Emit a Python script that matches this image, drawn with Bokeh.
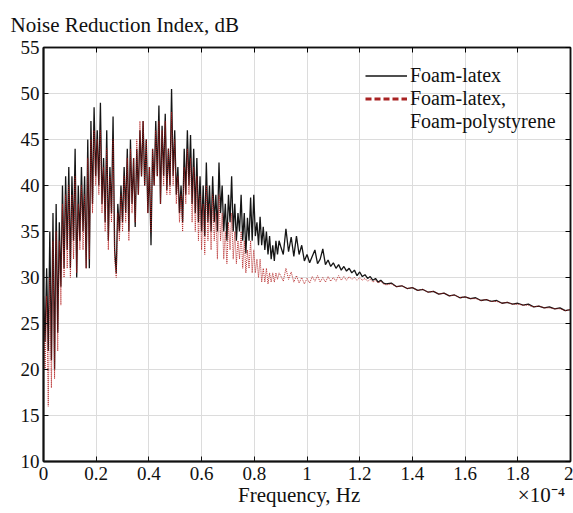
import numpy as np
from bokeh.plotting import figure
from bokeh.models import (Legend, LegendItem, LinearAxis, FixedTicker,
                          Range1d, ColumnDataSource)
from bokeh.embed import file_html
from bokeh.resources import INLINE

# ---------------- data ----------------
freq_a = np.round(np.arange(150) * 0.006, 3)          # 0.000 .. 0.894
freq_b = np.round(0.90 + np.arange(40) * 0.01, 3)      # 0.90 .. 1.29
freq_c = np.round(1.30 + np.arange(36) * 0.02, 3)      # 1.30 .. 2.00

latex_a = [28, 23, 31, 22, 35, 21, 37, 20, 38, 24,
           36, 29, 40, 31, 41, 33, 42, 31, 41, 34,
           44, 30, 40, 34, 42, 35, 41, 31, 45, 31,
           47, 38, 48.5, 41, 46, 40, 49, 38, 43, 36,
           46, 34, 42, 37, 47.5, 33, 30.5, 38, 35, 40,
           36, 42, 37, 44, 35, 45, 38, 43, 35.5, 44,
           39, 46, 41, 47, 40, 45, 37, 42, 33.5, 44,
           40, 47, 41, 48.7, 38, 46.5, 41, 47.8, 39.5, 44,
           40, 50.5, 41, 46, 39, 42, 37, 40, 36, 44,
           39, 46, 40, 45.5, 38, 44, 37, 43, 36, 41,
           35, 40, 34.5, 42.5, 36, 40, 35, 41, 36, 39,
           35, 42.5, 37, 40, 35, 38, 34, 39, 36, 41,
           35, 38, 34, 37, 35, 39, 34, 37, 32.6, 36.5,
           34, 38.7, 34, 39, 34.5, 36, 33.5, 36.6, 33.5, 35.5,
           33, 35, 32.5, 34.5, 32, 33.5, 31.8, 34, 32.5, 34]
latex_b = [33.4, 32.5, 35.3, 32.8, 34.4, 32.3, 34.5, 32.5, 33.5, 31.8,
           32.5, 31.6, 32.3, 33.0, 31.5, 32.0, 33.1, 31.4, 31.9, 31.2,
           31.6, 31.0, 31.4, 30.8, 31.2, 30.7, 31.0, 30.5, 30.8, 30.2,
           30.6, 30.1, 30.3, 29.9, 30.1, 29.7, 29.9, 29.5, 29.7, 29.4]
latex_c = [29.3, 29.4, 29.0, 29.1, 28.8, 28.9, 28.6, 28.7, 28.4, 28.5,
           28.2, 28.3, 28.0, 28.1, 27.8, 27.9, 27.7, 27.8, 27.5, 27.6,
           27.4, 27.5, 27.2, 27.3, 27.1, 27.2, 27.0, 27.1, 26.8, 26.9,
           26.7, 26.8, 26.6, 26.7, 26.4, 26.5]

poly_a = [27, 20, 28, 16, 30, 18, 34, 19, 35, 22,
          34, 27, 38, 30, 39, 31, 40, 30, 39, 32,
          41, 30.5, 38, 33, 40, 33, 39, 31, 43, 32,
          45, 37, 46, 40, 45, 39, 46, 37, 42, 35,
          44, 33, 41, 36, 45, 32, 30, 37, 34, 39,
          35, 41, 36, 43, 34, 44, 37, 43, 36, 45,
          39, 47, 41, 47, 40, 45, 37, 42, 35, 44,
          40, 46, 41, 47, 38, 46, 40, 47, 39, 44,
          39, 48, 40, 45, 38, 41, 36, 39, 35, 42,
          38, 44, 39, 43, 36, 42, 35, 41, 34, 39,
          33, 38, 32.5, 40, 34, 38, 33, 39, 34, 37,
          32, 39, 34, 37, 32, 35, 31.5, 36, 33, 37,
          32, 35, 31.5, 34, 32, 35, 31, 34, 30.5, 33,
          31, 34, 30.5, 33, 30.5, 32, 30, 32, 29.5, 31,
          29.5, 31, 29.3, 30.5, 29.5, 30.5, 29.5, 30.5, 29.8, 30.5]
poly_b = [30.2, 29.6, 31.0, 29.8, 30.6, 29.5, 30.2, 29.4, 30.0, 29.3,
          29.9, 29.4, 30.1, 29.6, 30.2, 29.5, 30.0, 29.5, 30.1, 29.6,
          30.0, 29.6, 30.2, 29.7, 30.1, 29.7, 30.1, 29.8, 30.0, 29.7,
          30.0, 29.7, 29.9, 29.6, 29.8, 29.5, 29.7, 29.4, 29.6, 29.3]
poly_c = [29.2, 29.3, 29.0, 29.1, 28.8, 28.9, 28.6, 28.7, 28.4, 28.5,
          28.2, 28.3, 28.0, 28.1, 27.8, 27.9, 27.7, 27.7, 27.5, 27.6,
          27.4, 27.4, 27.2, 27.3, 27.1, 27.1, 27.0, 27.0, 26.8, 26.9,
          26.7, 26.7, 26.6, 26.6, 26.4, 26.5]

x_ticks = [0, 0.2, 0.4, 0.6, 0.8, 1.0, 1.2, 1.4, 1.6, 1.8, 2.0]
x_tick_labels = ["0", "0.2", "0.4", "0.6", "0.8", "1", "1.2", "1.4", "1.6", "1.8", "2"]
y_ticks = [10, 15, 20, 25, 30, 35, 40, 45, 50, 55]

series_names = ["Foam-latex", "Foam-latex,", "Foam-polystyrene"]
x_label = "Frequency, Hz"
x_multiplier = "\u00d710\u207b\u2074"

freq = np.concatenate([freq_a, freq_b, freq_c])
src_latex = ColumnDataSource(dict(x=freq, y=np.array(latex_a + latex_b + latex_c, dtype=float)))
src_poly = ColumnDataSource(dict(x=freq, y=np.array(poly_a + poly_b + poly_c, dtype=float)))
nan_src = ColumnDataSource(dict(x=[np.nan], y=[np.nan]))

FONT = "Liberation Serif"
NBSP = "\u00a0"

p = figure(width=573, height=513, output_backend="svg", toolbar_location=None,
           x_range=Range1d(0, 2), y_range=Range1d(10, 55),
           min_border_left=43, min_border_right=3, min_border_top=47, min_border_bottom=52,
           background_fill_color="white", border_fill_color="white")

p.title.text = "Noise Reduction Index, dB"
p.title.align = "left"
p.title.offset = -33
p.title.standoff = 21
p.title.text_font = FONT
p.title.text_font_size = "21px"
p.title.text_font_style = "normal"
p.title.text_color = "#111111"

# curves
r_latex = p.line("x", "y", source=src_latex, line_color="#151515", line_width=1.3)
r_poly = p.line("x", "y", source=src_poly, line_color="#b01818", line_width=1.0,
                line_dash="1 1", line_alpha=0.9)

# axes styling
for ax in (p.xaxis[0], p.yaxis[0]):
    ax.major_tick_in = 5
    ax.major_tick_out = 0
    ax.minor_tick_line_color = None
    ax.axis_line_color = "#111111"
    ax.axis_line_width = 2
    ax.major_tick_line_color = "#111111"
    ax.major_label_text_font = FONT
    ax.major_label_text_font_size = "19px"
    ax.major_label_text_color = "#111111"

p.xaxis[0].ticker = FixedTicker(ticks=x_ticks)
p.xaxis[0].major_label_overrides = {t: l for t, l in zip(x_ticks, x_tick_labels)}
p.xaxis[0].major_label_standoff = 5
# axis title centred under the plot, with the x10^-4 multiplier at the right end
p.xaxis[0].axis_label = NBSP * 36 + x_label + NBSP * 30 + x_multiplier
p.xaxis[0].axis_label_text_font = FONT
p.xaxis[0].axis_label_text_font_size = "21px"
p.xaxis[0].axis_label_text_font_style = "normal"
p.xaxis[0].axis_label_text_color = "#111111"
p.xaxis[0].axis_label_standoff = 0

p.yaxis[0].ticker = FixedTicker(ticks=y_ticks)
p.yaxis[0].major_label_standoff = 4

# mirrored tick axes (top, right) without labels
top_ax = LinearAxis(ticker=FixedTicker(ticks=x_ticks),
                    major_label_overrides={t: "" for t in x_ticks},
                    major_label_text_font_size="1px",
                    major_label_standoff=0, major_tick_in=5, major_tick_out=0,
                    minor_tick_line_color=None, axis_line_color="#111111", axis_line_width=1.5)
right_ax = LinearAxis(ticker=FixedTicker(ticks=y_ticks),
                      major_label_overrides={t: "" for t in y_ticks},
                      major_label_text_font_size="1px",
                      major_label_standoff=0, major_tick_in=5, major_tick_out=0,
                      minor_tick_line_color=None, axis_line_color="#111111", axis_line_width=1.5)
p.add_layout(top_ax, "above")
p.add_layout(right_ax, "right")

p.grid.grid_line_color = "#dcdcdc"
p.grid.grid_line_width = 1
p.xgrid.ticker = FixedTicker(ticks=x_ticks)
p.ygrid.ticker = FixedTicker(ticks=y_ticks)
p.outline_line_color = "#111111"
p.outline_line_width = 1.5

# legend
d1 = p.line("x", "y", source=nan_src, line_color="#151515", line_width=1.3)
d2 = p.line("x", "y", source=nan_src, line_color="#a82222", line_width=3, line_dash="6 3")
d3 = p.line("x", "y", source=nan_src, line_alpha=0)
legend = Legend(items=[LegendItem(label=series_names[0], renderers=[d1]),
                       LegendItem(label=series_names[1], renderers=[d2]),
                       LegendItem(label=series_names[2], renderers=[d3])],
                location=(322, 328), orientation="vertical",
                glyph_width=42, glyph_height=23, label_height=23, label_standoff=3,
                spacing=0, padding=0, margin=0,
                label_text_font=FONT, label_text_font_size="20px", label_text_color="#111111",
                border_line_color=None, background_fill_alpha=0)
p.add_layout(legend, "center")

open("out.html", "w").write(file_html(p, INLINE))
